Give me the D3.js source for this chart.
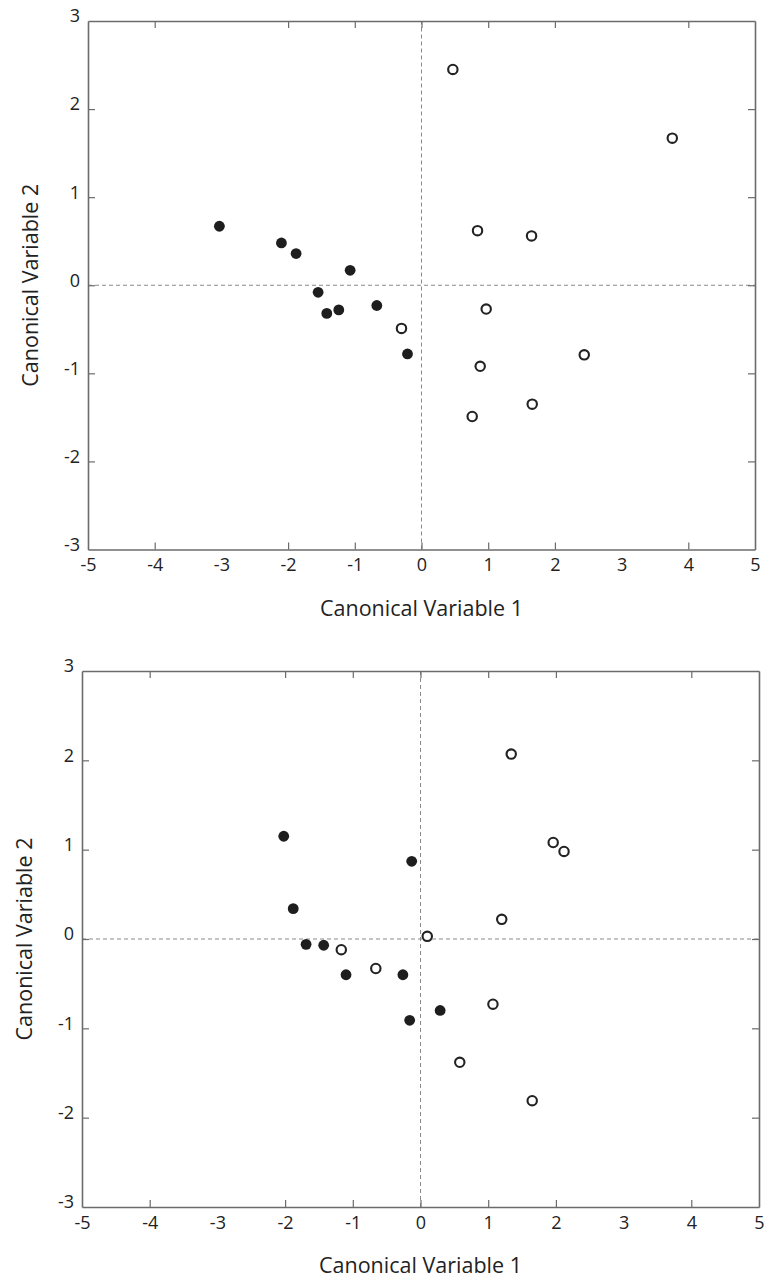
<!DOCTYPE html>
<html>
<head>
<meta charset="utf-8">
<script src="https://cdn.jsdelivr.net/npm/d3@7"></script>
<style>
  html, body { margin: 0; padding: 0; background: #fff; }
  svg { display: block; font-family: "Open Sans", "Noto Sans", sans-serif; }
</style>
</head>
<body>
<svg id="chart" width="764" height="1282"></svg>
<script>
// ---- Data ----
const xTicks = [-5, -4, -3, -2, -1, 0, 1, 2, 3, 4, 5];
const yTicks = [-3, -2, -1, 0, 1, 2, 3];
const xLabel = "Canonical Variable 1";
const yLabel = "Canonical Variable 2";

// Top panel
const topFilledX = [-3.03, -2.10, -1.88, -1.07, -1.55, -1.42, -1.24, -0.67, -0.21];
const topFilledY = [0.67, 0.48, 0.36, 0.17, -0.08, -0.32, -0.28, -0.23, -0.78];
const topOpenX = [-0.30, 0.47, 3.76, 0.84, 1.65, 0.97, 0.88, 2.44, 1.66, 0.76];
const topOpenY = [-0.49, 2.45, 1.67, 0.62, 0.56, -0.27, -0.92, -0.79, -1.35, -1.49];

// Bottom panel
const botFilledX = [-2.02, -0.13, -1.88, -1.69, -1.43, -1.10, -0.26, -0.16, 0.29];
const botFilledY = [1.15, 0.87, 0.34, -0.06, -0.07, -0.40, -0.40, -0.91, -0.80];
const botOpenX = [1.34, 1.96, 2.12, 1.20, 0.10, -1.17, -0.66, 1.07, 0.58, 1.65];
const botOpenY = [2.07, 1.08, 0.98, 0.22, 0.03, -0.12, -0.33, -0.73, -1.38, -1.81];

const panels = [
  { left: 88, right: 755, top: 21, bottom: 549.5,
    filledX: topFilledX, filledY: topFilledY, openX: topOpenX, openY: topOpenY },
  { left: 82, right: 759, top: 671, bottom: 1207,
    filledX: botFilledX, filledY: botFilledY, openX: botOpenX, openY: botOpenY }
];

const svg = d3.select("#chart");
const frameColor = "#6b6b6b";
const textColor = "#222";
const fmt = d => String(d); // hyphen-minus as in the reference

panels.forEach(p => {
  const x = d3.scaleLinear().domain([-5, 5]).range([p.left, p.right]);
  const y = d3.scaleLinear().domain([-3, 3]).range([p.bottom, p.top]);
  const g = svg.append("g");

  // zero dashed lines
  g.append("line")
    .attr("x1", x(-5)).attr("x2", x(5)).attr("y1", y(0)).attr("y2", y(0))
    .attr("stroke", "#8a8a8a").attr("stroke-width", 1).attr("stroke-dasharray", "4,3");
  g.append("line")
    .attr("x1", x(0)).attr("x2", x(0)).attr("y1", y(-3)).attr("y2", y(3))
    .attr("stroke", "#8a8a8a").attr("stroke-width", 1).attr("stroke-dasharray", "4,3");

  const tl = 7;
  const axB = d3.axisBottom(x).tickValues(xTicks).tickSizeInner(-tl).tickSizeOuter(0).tickFormat(fmt);
  const axT = d3.axisTop(x).tickValues(xTicks).tickSizeInner(-tl).tickSizeOuter(0).tickFormat("");
  const axL = d3.axisLeft(y).tickValues(yTicks).tickSizeInner(-tl).tickSizeOuter(0).tickFormat(fmt);
  const axR = d3.axisRight(y).tickValues(yTicks).tickSizeInner(-tl).tickSizeOuter(0).tickFormat("");

  function style(sel) {
    sel.select(".domain").attr("stroke", frameColor).attr("stroke-width", 1.6);
    sel.selectAll(".tick line").attr("stroke", frameColor).attr("stroke-width", 1.2);
    sel.selectAll(".tick text").attr("fill", textColor).attr("font-size", 18)
      .attr("font-family", "'Open Sans', 'Noto Sans', sans-serif");
  }
  const gb = g.append("g").attr("transform", `translate(0,${p.bottom})`).call(axB).call(style);
  gb.selectAll(".tick text").attr("y", 9);
  g.append("g").attr("transform", `translate(0,${p.top})`).call(axT).call(style);
  const gl = g.append("g").attr("transform", `translate(${p.left},0)`).call(axL).call(style);
  gl.selectAll(".tick text").attr("x", -8).attr("dy", "0.05em");
  g.append("g").attr("transform", `translate(${p.right},0)`).call(axR).call(style);
  g.selectAll(".tick line").filter(d => d === -5 || d === 5 || d === -3 || d === 3).attr("opacity", 0);

  // points
  g.selectAll(".filled").data(p.filledX.map((v, i) => [v, p.filledY[i]]))
    .enter().append("circle")
    .attr("cx", d => x(d[0])).attr("cy", d => y(d[1])).attr("r", 5.4)
    .attr("fill", "#1e1e1e");
  g.selectAll(".open").data(p.openX.map((v, i) => [v, p.openY[i]]))
    .enter().append("circle")
    .attr("cx", d => x(d[0])).attr("cy", d => y(d[1])).attr("r", 4.7)
    .attr("fill", "#fff").attr("stroke", "#222").attr("stroke-width", 2.1);

  // axis labels
  g.append("text")
    .attr("x", (p.left + p.right) / 2).attr("y", p.bottom + 66)
    .attr("text-anchor", "middle").attr("font-size", 21.5).attr("fill", textColor)
    .text(xLabel);
  g.append("text")
    .attr("transform", `translate(${p.left - 50},${(p.top + p.bottom) / 2}) rotate(-90)`)
    .attr("text-anchor", "middle").attr("font-size", 21.5).attr("fill", textColor)
    .text(yLabel);
});
</script>
</body>
</html>
